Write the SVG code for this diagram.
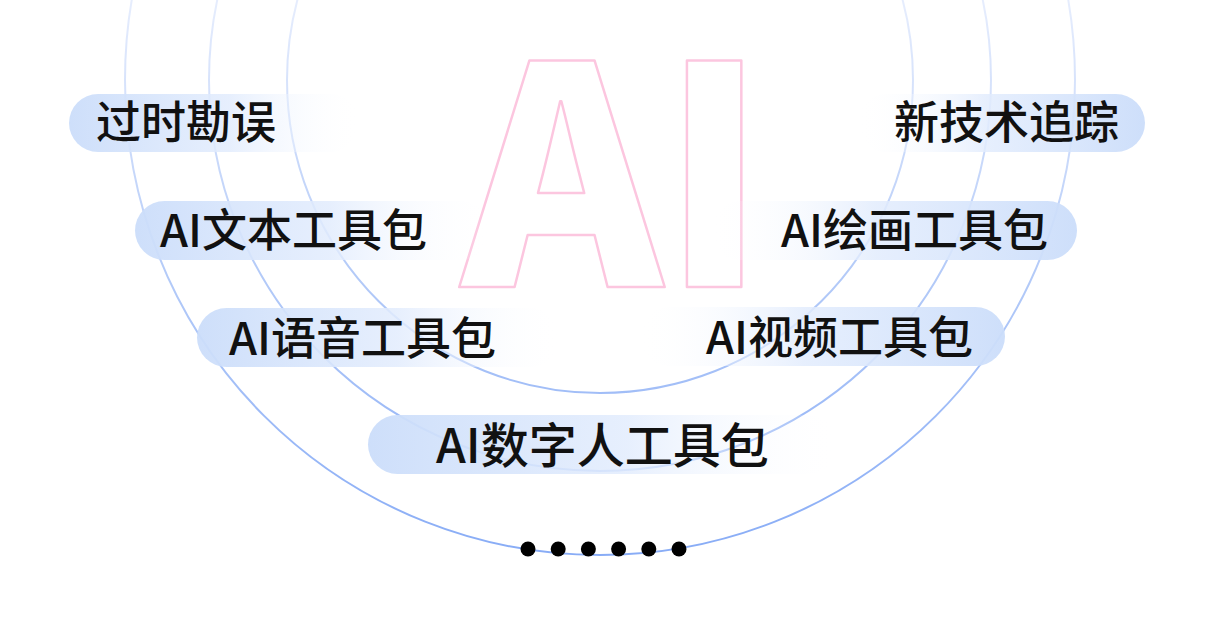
<svg xmlns="http://www.w3.org/2000/svg" width="1206" height="636" viewBox="0 0 1206 636">
  <defs>
    <linearGradient id="ring" gradientUnits="userSpaceOnUse" x1="0" y1="0" x2="0" y2="556">
      <stop offset="0" stop-color="#e6edfd"/>
      <stop offset="0.5" stop-color="#b3caf8"/>
      <stop offset="1" stop-color="#88acf6"/>
    </linearGradient>
    <linearGradient id="pillL" x1="0" y1="0" x2="1" y2="0">
      <stop offset="0" stop-color="#cbddfa" stop-opacity="0.95"/>
      <stop offset="0.55" stop-color="#e2ecfd" stop-opacity="0.85"/>
      <stop offset="1" stop-color="#ffffff" stop-opacity="0"/>
    </linearGradient>
    <linearGradient id="pillR" x1="1" y1="0" x2="0" y2="0">
      <stop offset="0" stop-color="#cbddfa" stop-opacity="0.95"/>
      <stop offset="0.55" stop-color="#e2ecfd" stop-opacity="0.85"/>
      <stop offset="1" stop-color="#ffffff" stop-opacity="0"/>
    </linearGradient>
  </defs>
  <style>
    .ring { fill: none; stroke: url(#ring); stroke-width: 2; }
    .big { font-family: "Noto Sans CJK SC", "Noto Sans", sans-serif; font-weight: 900; font-size: 304px; fill: none; stroke: #fcc6df; stroke-width: 2.5; stroke-linejoin: round; text-anchor: middle; }
    .lbl { font-family: "Noto Sans CJK SC", "Noto Sans", sans-serif; font-weight: 500; font-size: 45px; fill: #111111; }
    .lbl-lg { font-size: 48px; }
    .pl { fill: url(#pillL); }
    .pr { fill: url(#pillR); }
    .dot { fill: #000000; }
  </style>
  <rect width="1206" height="636" fill="#ffffff"/>

  <g id="rings">
    <circle class="ring" cx="600" cy="80" r="475"/>
    <circle class="ring" cx="600" cy="80" r="391"/>
    <circle class="ring" cx="600" cy="80" r="313"/>
  </g>

  <g id="big-ai">
    <text class="big" x="562" y="287">A</text>
    <text class="big" x="714" y="287">I</text>
  </g>

  <g id="node-guoshi">
    <rect class="pl" x="69" y="94" width="291" height="58" rx="29"/>
    <text class="lbl" x="96" y="139">过时勘误</text>
  </g>
  <g id="node-xinjishu">
    <rect class="pr" x="857" y="94" width="288" height="58" rx="29"/>
    <text class="lbl" x="1119" y="139" text-anchor="end">新技术追踪</text>
  </g>
  <g id="node-wenben">
    <rect class="pl" x="135" y="201" width="355" height="59" rx="29.5"/>
    <text class="lbl" x="160" y="247">AI文本工具包</text>
  </g>
  <g id="node-huihua">
    <rect class="pr" x="710" y="201" width="367" height="59" rx="29.5"/>
    <text class="lbl" x="1048" y="247" text-anchor="end">AI绘画工具包</text>
  </g>
  <g id="node-yuyin">
    <rect class="pl" x="197" y="308" width="363" height="59" rx="29.5"/>
    <text class="lbl" x="229" y="355">AI语音工具包</text>
  </g>
  <g id="node-shipin">
    <rect class="pr" x="640" y="307" width="365" height="59" rx="29.5"/>
    <text class="lbl" x="973" y="354" text-anchor="end">AI视频工具包</text>
  </g>
  <g id="node-shuziren">
    <rect class="pl" x="368" y="415" width="470" height="59" rx="29.5"/>
    <text class="lbl lbl-lg" x="436" y="463">AI数字人工具包</text>
  </g>

  <g id="dots">
    <circle class="dot" cx="528" cy="549" r="7.5"/>
    <circle class="dot" cx="558.2" cy="549" r="7.5"/>
    <circle class="dot" cx="588.4" cy="549" r="7.5"/>
    <circle class="dot" cx="618.6" cy="549" r="7.5"/>
    <circle class="dot" cx="648.8" cy="549" r="7.5"/>
    <circle class="dot" cx="679" cy="549" r="7.5"/>
  </g>
</svg>
